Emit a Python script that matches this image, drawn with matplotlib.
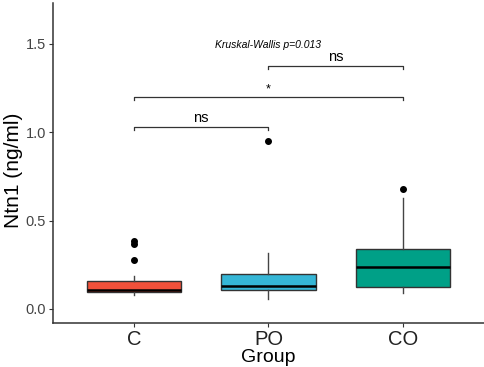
import matplotlib
matplotlib.use("Agg")
import matplotlib.pyplot as plt

# ─── DATA ──────────────────────────────────────────────────────────────────────
groups   = ["C", "PO", "CO"]
colors   = ["#F2513A", "#35B6D6", "#00A087"]
medians  = [0.110, 0.128, 0.238]
q1       = [0.094, 0.106, 0.126]
q3       = [0.160, 0.200, 0.341]
whislo   = [0.078, 0.058, 0.089]
whishi   = [0.187, 0.315, 0.626]
fliers   = [[0.386, 0.366, 0.277], [0.949], [0.679]]

# comparisons (group index pairs), bracket heights and labels
pairs        = [(0, 1), (0, 2), (1, 2)]
bracket_y    = [1.028, 1.196, 1.371]
bracket_lbl  = ["ns", "*", "ns"]
kw_text      = "Kruskal-Wallis p=0.013"
kw_y         = 1.49

yticks = [0.0, 0.5, 1.0, 1.5]
# ───────────────────────────────────────────────────────────────────────────────

fig = plt.figure(figsize=(4.84, 3.67), dpi=100)
ax = fig.add_axes([0.1095, 0.12, 0.8905, 0.872])

stats = []
for i, g in enumerate(groups):
    stats.append({"label": g, "med": medians[i], "q1": q1[i], "q3": q3[i],
                  "whislo": whislo[i], "whishi": whishi[i], "fliers": fliers[i]})

pos = list(range(1, len(groups) + 1))
bp = ax.bxp(stats, positions=pos, widths=0.7, patch_artist=True, showcaps=False,
            boxprops=dict(edgecolor="#333333", linewidth=1.0),
            whiskerprops=dict(color="#444444", linewidth=1.0),
            medianprops=dict(color="black", linewidth=1.8),
            flierprops=dict(marker="o", markerfacecolor="black",
                            markeredgecolor="black", markersize=4))
for patch, c in zip(bp["boxes"], colors):
    patch.set_facecolor(c)

# significance brackets
tick_h = 0.015
for (a, b), y, lbl in zip(pairs, bracket_y, bracket_lbl):
    xa, xb = pos[a], pos[b]
    ax.plot([xa, xa, xb, xb], [y - tick_h, y, y, y - tick_h], color="#333333", lw=0.9)
    ax.text((xa + xb) / 2, y + 0.012, lbl, ha="center", va="bottom",
            fontsize=10.5 if lbl == "ns" else 9, family="Liberation Sans", color="black")

ax.text(2, kw_y, kw_text, ha="center", va="center", fontsize=7.5,
        style="italic", family="Liberation Sans")

ax.set_xlim(0.4, 3.6)
ax.set_ylim(-0.079, 1.73)
ax.set_xticks(pos)
ax.set_xticklabels(groups, fontsize=14.5, family="Liberation Sans", color="#222222")
ax.set_yticks(yticks)
ax.set_yticklabels([f"{v:.1f}" for v in yticks], fontsize=10.5,
                   family="Liberation Sans", color="#444444")
ax.tick_params(axis="both", length=3, width=0.8, color="#333333", pad=2)

ax.set_xlabel("Group", fontsize=14, family="Liberation Sans", labelpad=0)
ax.set_ylabel("Ntn1 (ng/ml)", fontsize=15, family="Liberation Sans")
ax.yaxis.set_label_coords(-0.07, 0.478)

for side in ["top", "right"]:
    ax.spines[side].set_visible(False)
for side in ["left", "bottom"]:
    ax.spines[side].set_linewidth(1.1)
    ax.spines[side].set_color("#333333")

fig.savefig("out.png", dpi=100)
